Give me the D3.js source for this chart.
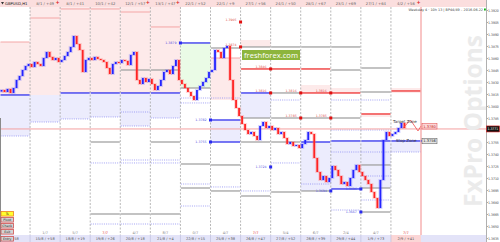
<!DOCTYPE html>
<html>
<head>
<meta charset="utf-8">
<script src="https://cdn.jsdelivr.net/npm/d3@7"></script>
<style>
  html, body { margin: 0; padding: 0; background: #fff; }
  svg { display: block; font-family: "DejaVu Sans", sans-serif; }
</style>
</head>
<body>
<svg id="chart" width="500" height="242"></svg>
<script>
// right price scale
const yTicks = [1.3920, 1.3905, 1.3890, 1.3875, 1.3860, 1.3845, 1.3830, 1.3815, 1.3800, 1.3785,
                1.3770, 1.3755, 1.3740, 1.3725, 1.3710, 1.3695, 1.3680, 1.3665, 1.3650, 1.3635];

// day columns
const headLabels = ['GBPUSD,H1', '8/1 / +49', '8/1 / +41', '10/1 / +42', '12/1 / +57', '13/1 / +47', '22/1 / +52',
                    '22/1 / +9', '27/1 / +56', '24/1 / +50', '28/1 / +67', '23/1 / +69', '27/1 / +64', '4/2 / +56'];
const footLabels = ['+58', '15/8 / +58', '18/8 / +19', '19/8 / +26', '20/8 / +18', '21/8 / +4', '22/8 / +15',
                    '25/8 / +38', '26/8 / +47', '27/8 / +52', '28/8 / +39', '29/8 / +44', '1/9 / +73', '2/9 / +41'];
const dayMarks = ['', '1/7', '5/7', '7/7', '4/7', '8/7', '0/7', '4/7', '7/7', '5/4', '6/7', '2/4', '4/7', '7/7'];
const redDays = [3, 8, 13];

// H1 closes
const firstOpen = 1.38180;
const closes = [
  1.38200, 1.38175, 1.38213, 1.38163, 1.38225, 1.38325, 1.38375, 1.38450, 1.38500, 1.38525,
  1.38488, 1.38550, 1.38525, 1.38500, 1.38600, 1.38675, 1.38613, 1.38575, 1.38600, 1.38550,
  1.38575, 1.38625, 1.38675, 1.38738, 1.38875, 1.38775, 1.38700, 1.38425, 1.38575, 1.38600,
  1.38575, 1.38613, 1.38588, 1.38575, 1.38550, 1.38475, 1.38400, 1.38525, 1.38550, 1.38538,
  1.38575, 1.38563, 1.38513, 1.38638, 1.38675, 1.38325, 1.38275, 1.38350, 1.38300, 1.38338,
  1.38275, 1.38200, 1.38250, 1.38325, 1.38425, 1.38450, 1.38400, 1.38500, 1.38575, 1.38325,
  1.38275, 1.38225, 1.38175, 1.38125, 1.38075, 1.38200, 1.38250, 1.38300, 1.38350, 1.38425,
  1.38450, 1.38700, 1.38675, 1.38600, 1.38725, 1.38750, 1.38325, 1.38075, 1.37975, 1.37875,
  1.37775, 1.37700, 1.37650, 1.37675, 1.37625, 1.37575, 1.37750, 1.37800, 1.37725, 1.37750,
  1.37700, 1.37725, 1.37650, 1.37675, 1.37600, 1.37525, 1.37550, 1.37500, 1.37513, 1.37475,
  1.37525, 1.37575, 1.37675, 1.37650, 1.37350, 1.37175, 1.37075, 1.37125, 1.37050, 1.37100,
  1.37250, 1.37200, 1.37125, 1.37025, 1.37050, 1.37000, 1.37100, 1.37200, 1.37263, 1.37175,
  1.37125, 1.37075, 1.37025, 1.36925, 1.36850, 1.36725, 1.37075, 1.37575, 1.37675, 1.37625,
  1.37650, 1.37675, 1.37725, 1.37788, 1.37725
];
const bid = 1.37713;

// zones [column, top price, bottom price]
const pinkZones = [[0, 1.3880, 1.38138], [1, 1.3924, 1.38138], [2, 1.3924, 1.38163], [3, 1.3924, 1.38163],
  [4, 1.3924, 1.38163], [5, 1.3924, 1.38163], [7, 1.3860, 1.38075], [8, 1.38825, 1.38738],
  [10, 1.38263, 1.38163], [11, 1.38225, 1.38163], [12, 1.37913, 1.37863], [13, 1.38225, 1.38163]];
const blueZones = [[0, 1.38138, 1.37625], [1, 1.38138, 1.3780], [2, 1.38163, 1.37838], [3, 1.38163, 1.37863],
  [4, 1.38163, 1.3775], [5, 1.38163, 1.3785], [7, 1.37825, 1.3755], [8, 1.38163, 1.3785],
  [10, 1.3755, 1.36938], [11, 1.37563, 1.36963], [12, 1.37563, 1.36975], [13, 1.37563, 1.37425]];
const greenZones = [[6, 1.38788, 1.38225]];

// level lines [column, price]
const pinkLines = [[0, 1.3880], [1, 1.3910], [2, 1.39213], [3, 1.39213], [4, 1.39175], [5, 1.38988], [7, 1.3860]];
const blueLines = [[0, 1.38138], [2, 1.38163], [3, 1.38163], [4, 1.38163], [5, 1.38163], [6, 1.38788],
  [7, 1.37825], [7, 1.3755], [8, 1.38163], [10, 1.3755], [11, 1.37563], [12, 1.37563], [13, 1.37563], [11, 1.36963]];
const redLines = [[8, 1.38463], [9, 1.38463], [10, 1.38463], [10, 1.38163], [11, 1.38163], [12, 1.3790], [13, 1.38188]];
const grayLines = [[4, 1.3845], [5, 1.3845], [7, 1.38725], [8, 1.38738], [9, 1.38738], [10, 1.38738], [11, 1.38738],
  [11, 1.3845], [12, 1.38475], [12, 1.38175], [9, 1.38163], [6, 1.38225], [8, 1.3785], [9, 1.3785], [10, 1.3785],
  [11, 1.3785], [3, 1.3755], [5, 1.3755], [8, 1.3755], [9, 1.3755], [3, 1.3665], [4, 1.3665], [5, 1.3665],
  [6, 1.37275], [6, 1.36975], [7, 1.37263], [7, 1.36938], [8, 1.36875], [9, 1.36925], [10, 1.36938],
  [12, 1.37263], [12, 1.36975], [12, 1.36675]];
const dotLines = [[1, 1.3780], [2, 1.37838], [3, 1.37863], [4, 1.37925], [4, 1.3775], [0, 1.37625], [5, 1.3785],
  [6, 1.3810], [6, 1.38038], [7, 1.3810], [9, 1.38075], [11, 1.38075], [12, 1.38075], [11, 1.3770], [12, 1.3770],
  [11, 1.37425], [12, 1.37425], [13, 1.37425], [3, 1.37288], [4, 1.37325], [4, 1.37288], [5, 1.37325],
  [5, 1.37288], [3, 1.36525], [4, 1.36525], [5, 1.36525], [6, 1.37025], [6, 1.3675], [7, 1.36988],
  [8, 1.36938], [9, 1.37288], [10, 1.37025], [11, 1.367], [12, 1.37125], [12, 1.36825]];
const redMarks = [[7, 1.3905], [7, 1.38738], [8, 1.38463], [8, 1.38163], [9, 1.38163], [10, 1.38163], [9, 1.3785], [10, 1.3785]];
const blueMarks = [[5, 1.38788], [6, 1.37825], [6, 1.3755], [8, 1.37238], [10, 1.36938], [11, 1.36963], [11, 1.36675]];

// forecast
const targetPath = [[134, 1.37725], [136.5, 1.37825], [139, 1.37688], [140, 1.3775]];
const targetPrice = 1.3780;
const stopPrice = 1.37563;

const legendNames = ['Ts', 'Pivot', 'Check', 'Exit', 'Entry'];

const W = 500, H = 242;
const plotTop = 7, plotBottom = 235, axisX = 486, nowX = 421;
const svg = d3.select('#chart');

const x = d3.scaleLinear().domain([0, 140]).range([0, nowX]);
const y = d3.scaleLinear().domain([yTicks[0], yTicks[yTicks.length - 1]]).range([10, 238]);
const colX0 = c => x(c * 10);
const colX1 = c => x(c * 10 + 10);
const colMid = c => x(c * 10 + 5);

svg.append('rect').attr('width', W).attr('height', H).attr('fill', '#fff');

svg.append('clipPath').attr('id', 'plot')
  .append('rect').attr('x', 0).attr('y', plotTop).attr('width', axisX).attr('height', plotBottom - plotTop);
const g = svg.append('g').attr('clip-path', 'url(#plot)');

function zones(data, color) {
  g.append('g').selectAll('rect').data(data).join('rect')
    .attr('x', d => colX0(d[0]))
    .attr('width', d => colX1(d[0]) - colX0(d[0]))
    .attr('y', d => y(d[1]))
    .attr('height', d => y(d[2]) - y(d[1]))
    .attr('fill', color);
}
zones(pinkZones, '#fdeaea');
zones(blueZones, '#ececfd');
zones(greenZones, '#eafbe6');

// day separators
g.append('g').selectAll('line').data(d3.range(1, 14)).join('line')
  .attr('x1', c => colX0(c)).attr('x2', c => colX0(c))
  .attr('y1', 0).attr('y2', plotBottom)
  .attr('stroke', '#9a9a9a').attr('stroke-width', 0.7).attr('stroke-dasharray', '2,1.5');

function levels(data, stroke, width, dash) {
  g.append('g').selectAll('line').data(data).join('line')
    .attr('x1', d => colX0(d[0]) + 0.5).attr('x2', d => colX1(d[0]) - 0.5)
    .attr('y1', d => y(d[1])).attr('y2', d => y(d[1]))
    .attr('stroke', stroke).attr('stroke-width', width)
    .attr('stroke-dasharray', dash || null);
}
levels(pinkLines, '#f4a6a6', 1);
levels(dotLines, '#8c8cf2', 0.8, '1,1.2');
levels(grayLines, '#a2a2a2', 1.3);
levels(blueLines, '#4b4bef', 1.5);
levels(redLines, '#f04a4a', 1.5);

// current bid line
g.append('line').attr('x1', 0).attr('x2', axisX).attr('y1', y(bid)).attr('y2', y(bid))
  .attr('stroke', '#f4a0a0').attr('stroke-width', 1);

// candles
const opens = [firstOpen].concat(closes.slice(0, -1));
const candles = closes.map((c, i) => ({ i, o: opens[i], c }));
const cg = g.append('g');
cg.selectAll('rect.sh').data(candles).join('rect').attr('class', 'sh')
  .attr('x', d => x(d.i + 0.5) - 2)
  .attr('width', 4)
  .attr('y', d => y(Math.max(d.o, d.c)) - 1)
  .attr('height', d => Math.abs(y(d.o) - y(d.c)) + 2)
  .attr('fill', d => d.c >= d.o ? '#6a6aff' : '#ff6a6a')
  .attr('opacity', 0.28);
cg.selectAll('rect.bd').data(candles).join('rect').attr('class', 'bd')
  .attr('x', d => x(d.i + 0.5) - 0.9)
  .attr('width', 1.8)
  .attr('y', d => y(Math.max(d.o, d.c)))
  .attr('height', d => Math.max(1, Math.abs(y(d.o) - y(d.c))))
  .attr('fill', d => d.c >= d.o ? '#2323ff' : '#ff2323');

// forecast zigzag
g.append('path').datum(targetPath)
  .attr('d', d3.line().x(d => x(d[0])).y(d => y(d[1])))
  .attr('fill', 'none').attr('stroke', '#f04a4a').attr('stroke-width', 0.8);

// level marks
g.append('g').selectAll('rect').data(redMarks).join('rect')
  .attr('x', d => colX1(d[0]) - 1.5).attr('y', d => y(d[1]) - 1.5)
  .attr('width', 3).attr('height', 3).attr('fill', '#e01010');
g.append('g').selectAll('text').data(redMarks).join('text')
  .attr('x', d => colX1(d[0]) - 4).attr('y', d => y(d[1]) - 1)
  .attr('text-anchor', 'end').attr('font-size', 3.2).attr('fill', '#e05050')
  .text(d => d3.format('.4f')(d[1]));
g.append('g').selectAll('rect').data(blueMarks).join('rect')
  .attr('x', d => colX1(d[0]) - 1.5).attr('y', d => y(d[1]) - 1.5)
  .attr('width', 3).attr('height', 3).attr('fill', '#2a2aef');
g.append('g').selectAll('text').data(blueMarks).join('text')
  .attr('x', d => colX1(d[0]) - 4).attr('y', d => y(d[1]) + 1)
  .attr('text-anchor', 'end').attr('font-size', 3.2).attr('fill', '#5050e0')
  .text(d => d3.format('.4f')(d[1]));

// now line
svg.append('line').attr('x1', nowX).attr('x2', nowX).attr('y1', plotTop).attr('y2', plotBottom)
  .attr('stroke', '#f28b8b').attr('stroke-width', 1);

// watermark
svg.append('text')
  .attr('transform', `translate(482,${(plotTop + plotBottom) / 2}) rotate(-90)`)
  .attr('text-anchor', 'middle')
  .attr('font-family', '"Open Sans", sans-serif').attr('font-weight', 'bold')
  .attr('font-size', 25).attr('fill', '#ebebeb')
  .attr('textLength', 172).attr('lengthAdjust', 'spacingAndGlyphs')
  .text('FxPro Options');

// target / stop labels
svg.append('text').attr('x', 393).attr('y', y(targetPrice) + 0.5)
  .attr('font-size', 4).attr('fill', '#333').text('Target Zone');
svg.append('text').attr('x', 396).attr('y', y(stopPrice) + 1.5)
  .attr('font-size', 4).attr('fill', '#333').text('Stop Zone');
svg.append('line').attr('x1', nowX).attr('x2', 437).attr('y1', y(stopPrice)).attr('y2', y(stopPrice))
  .attr('stroke', '#4b4bef').attr('stroke-width', 1.2);
svg.append('rect').attr('x', 422).attr('y', y(targetPrice) + 1.5).attr('width', 15).attr('height', 5.5)
  .attr('fill', '#fcd6d6').attr('stroke', '#e04040').attr('stroke-width', 0.5);
svg.append('text').attr('x', 429.5).attr('y', y(targetPrice) + 5.6).attr('text-anchor', 'middle')
  .attr('font-size', 3.6).attr('fill', '#c02020').text(d3.format('.4f')(targetPrice));
svg.append('rect').attr('x', 422).attr('y', y(stopPrice) - 2.7).attr('width', 15).attr('height', 5.5)
  .attr('fill', '#e4e4e4').attr('stroke', '#555').attr('stroke-width', 0.5);
svg.append('text').attr('x', 429.5).attr('y', y(stopPrice) + 1.4).attr('text-anchor', 'middle')
  .attr('font-size', 3.6).attr('fill', '#222').text(d3.format('.4f')(stopPrice));

// badge
svg.append('rect').attr('x', 242).attr('y', 50).attr('width', 58).attr('height', 10).attr('fill', '#8db53c');
svg.append('text').attr('x', 271).attr('y', 57.6).attr('text-anchor', 'middle')
  .attr('font-family', '"Open Sans", sans-serif').attr('font-size', 7.6).attr('fill', '#fff')
  .text('freshforex.com');

// header band
svg.append('rect').attr('x', 0).attr('y', 0).attr('width', axisX).attr('height', plotTop).attr('fill', '#fbdede');
svg.append('g').selectAll('text').data(headLabels).join('text')
  .attr('x', (d, i) => i === 0 ? 5 : colMid(i)).attr('y', 5)
  .attr('text-anchor', (d, i) => i === 0 ? 'start' : 'middle')
  .attr('font-size', 3.8).attr('fill', (d, i) => i === 0 ? '#111' : '#666')
  .text(d => d);
svg.append('path').attr('d', 'M1,2 L4,2 L2.5,4.5 Z').attr('fill', '#333');
svg.append('g').selectAll('text').data([1, 4, 5, 13]).join('text')
  .attr('x', c => colX1(c) - 2.5).attr('y', 4).attr('text-anchor', 'middle')
  .attr('font-size', 5).attr('font-weight', 'bold').attr('fill', '#e02020').text('+');
svg.append('text').attr('x', 483).attr('y', 11).attr('text-anchor', 'end')
  .attr('font-size', 3.4).attr('fill', '#444')
  .text('Weekday 4 \u00b7 10h 13 | BP44/49 \u2013 2016.06.22');
svg.append('rect').attr('x', 484).attr('y', 8.5).attr('width', 1.8).attr('height', 2).attr('fill', '#10b010');

// footer band
svg.append('rect').attr('x', 0).attr('y', plotBottom).attr('width', axisX).attr('height', H - plotBottom).attr('fill', '#e3e3f8');
svg.append('rect').attr('x', colX0(13)).attr('y', plotBottom).attr('width', colX1(13) - colX0(13)).attr('height', H - plotBottom).attr('fill', '#fbd6d6');
svg.append('g').selectAll('line').data(d3.range(1, 14)).join('line')
  .attr('x1', c => colX0(c)).attr('x2', c => colX0(c)).attr('y1', plotBottom).attr('y2', H)
  .attr('stroke', '#b8b8d8').attr('stroke-width', 0.6);
svg.append('g').selectAll('text').data(footLabels).join('text')
  .attr('x', (d, i) => colMid(i)).attr('y', 240.3).attr('text-anchor', 'middle')
  .attr('font-size', 3.6).attr('fill', '#555').text(d => d);
svg.append('g').selectAll('text').data(dayMarks).join('text')
  .attr('x', (d, i) => colMid(i)).attr('y', 233.5).attr('text-anchor', 'middle')
  .attr('font-size', 3.6).attr('fill', (d, i) => redDays.includes(i) ? '#e03030' : '#888')
  .text(d => d);

// left border
svg.append('line').attr('x1', 0.5).attr('x2', 0.5).attr('y1', 118).attr('y2', H)
  .attr('stroke', '#8a8a8a').attr('stroke-width', 1);

// legend buttons
const lg = svg.append('g').selectAll('g').data(legendNames).join('g')
  .attr('transform', (d, i) => `translate(1,${[211.5, 217.5, 223.5, 229.5, 236.5][i]})`);
lg.append('rect').attr('width', 12.5).attr('height', 4.6)
  .attr('fill', (d, i) => i === 0 ? '#ffff30' : '#d4d4d4')
  .attr('stroke', (d, i) => i === 0 ? '#f08020' : '#d05050').attr('stroke-width', 0.8);
lg.append('text').attr('x', 6.25).attr('y', 3.5).attr('text-anchor', 'middle')
  .attr('font-size', 3.2).attr('fill', '#222').text(d => d);

// right price axis
svg.append('rect').attr('x', axisX).attr('y', 0).attr('width', W - axisX).attr('height', H).attr('fill', '#fff');
const ax = svg.append('g').attr('transform', `translate(${axisX},0)`)
  .call(d3.axisRight(y).tickValues(yTicks).tickSize(1.5).tickPadding(0.6).tickFormat(d3.format('.4f')));
ax.select('.domain').remove();
ax.selectAll('.tick line').attr('stroke', '#555');
ax.selectAll('.tick text').attr('font-size', 3.4).attr('fill', '#444')
  .attr('font-family', '"DejaVu Sans Condensed", "Liberation Sans Narrow", sans-serif');
svg.append('line').attr('x1', axisX + 0.5).attr('x2', axisX + 0.5).attr('y1', 0).attr('y2', H)
  .attr('stroke', '#b0b0b0').attr('stroke-width', 1);
svg.append('rect').attr('x', axisX + 0.5).attr('y', y(bid) - 3).attr('width', W - axisX - 1).attr('height', 6)
  .attr('fill', '#111').attr('stroke', '#e02020').attr('stroke-width', 0.6);
svg.append('text').attr('x', axisX + 1.5).attr('y', y(bid) + 1.3)
  .attr('font-size', 3.4).attr('fill', '#fff')
  .attr('font-family', '"DejaVu Sans Condensed", "Liberation Sans Narrow", sans-serif')
  .text(d3.format('.4f')(bid));
</script>
</body>
</html>
